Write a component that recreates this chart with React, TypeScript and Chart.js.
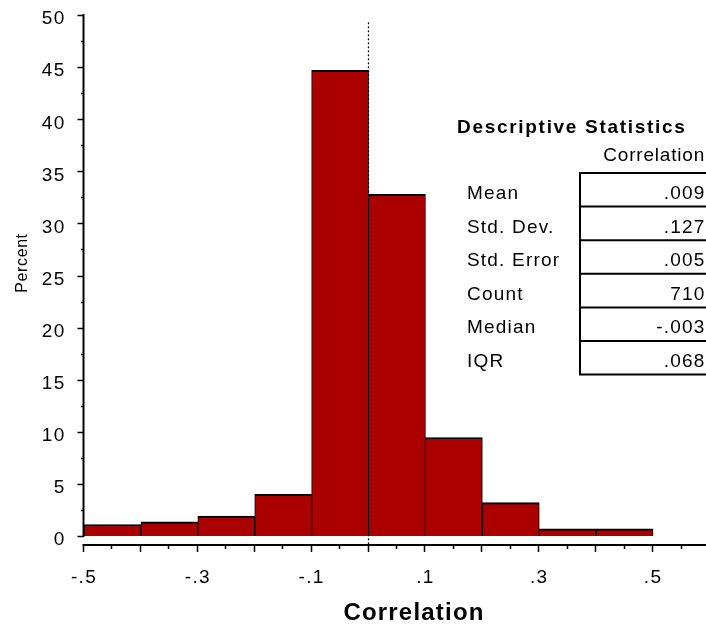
import React, { useEffect, useRef } from "react";
import { Chart, registerables } from "chart.js";

Chart.register(...registerables);

// ---- data ----
const binCenters = [-0.45, -0.35, -0.25, -0.15, -0.05, 0.05, 0.15, 0.25, 0.35, 0.45];
const percentValues = [1.1, 1.35, 1.9, 4.0, 44.7, 32.8, 9.45, 3.2, 0.7, 0.7];
const yTickValues = [0, 5, 10, 15, 20, 25, 30, 35, 40, 45, 50];
const yTickLabels = ["0", "5", "10", "15", "20", "25", "30", "35", "40", "45", "50"];
const xTickValues = [-0.5, -0.3, -0.1, 0.1, 0.3, 0.5];
const xTickLabels = ["-.5", "-.3", "-.1", ".1", ".3", ".5"];
const referenceLineX = 0;
const xAxisTitle = "Correlation";
const yAxisTitle = "Percent";
const tableTitle = "Descriptive Statistics";
const tableHeader = "Correlation";
const statLabels = ["Mean", "Std. Dev.", "Std. Error", "Count", "Median", "IQR"];
const statValues = [".009", ".127", ".005", "710", "-.003", ".068"];

const FONT = '"Liberation Sans", Arial, Helvetica, sans-serif';

function setFont(ctx: CanvasRenderingContext2D, font: string, spacing: number) {
  ctx.font = font;
  (ctx as any).letterSpacing = spacing + "px";
}

const customPlugin = {
  id: "customAxes",
  beforeDatasetsDraw(chart: any) {
    const ctx: CanvasRenderingContext2D = chart.ctx;
    const xs = chart.scales.x;
    const ys = chart.scales.y;
    const px = Math.round(xs.getPixelForValue(referenceLineX)) - 0.5;
    const axisY = ys.getPixelForValue(0) + 9;
    ctx.save();
    ctx.strokeStyle = "#111";
    ctx.lineWidth = 1.3;
    ctx.setLineDash([2, 2]);
    ctx.beginPath();
    ctx.moveTo(px, ys.getPixelForValue(49.3));
    ctx.lineTo(px, axisY);
    ctx.stroke();
    ctx.restore();
  },
  afterDraw(chart: any) {
    const ctx: CanvasRenderingContext2D = chart.ctx;
    const xs = chart.scales.x;
    const ys = chart.scales.y;
    const area = chart.chartArea;
    const y0 = ys.getPixelForValue(0);
    const axisY = y0 + 9;
    const axisX = area.left - 0.5;
    ctx.save();
    ctx.fillStyle = "#000";
    ctx.strokeStyle = "#000";

    // y axis line
    ctx.lineWidth = 2;
    ctx.beginPath();
    ctx.moveTo(axisX, ys.getPixelForValue(50) - 1);
    ctx.lineTo(axisX, y0 + 1);
    ctx.stroke();
    // y ticks (major every 5, minor halfway)
    for (let i = 0; i <= 20; i++) {
      const v = i * 2.5;
      const py = Math.round(ys.getPixelForValue(v)) + 0.5;
      const len = i % 2 === 0 ? 6 : 2.5;
      ctx.lineWidth = 1.5;
      ctx.beginPath();
      ctx.moveTo(axisX - len, py);
      ctx.lineTo(axisX, py);
      ctx.stroke();
    }
    setFont(ctx, "19px " + FONT, 1.3);
    ctx.textAlign = "right";
    ctx.textBaseline = "alphabetic";
    yTickValues.forEach((v, i) => {
      const py = ys.getPixelForValue(v);
      ctx.fillText(yTickLabels[i], 65.5, py + 9.3);
    });

    // x axis line
    ctx.lineWidth = 2;
    ctx.beginPath();
    ctx.moveTo(axisX - 1, axisY);
    ctx.lineTo(chart.width, axisY);
    ctx.stroke();
    for (let i = 0; i <= 21; i++) {
      const v = -0.5 + i * 0.05;
      const px = Math.round(xs.getPixelForValue(v)) - 0.5;
      const len = i % 2 === 0 ? 7 : 4;
      ctx.lineWidth = 1.5;
      ctx.beginPath();
      ctx.moveTo(px, axisY);
      ctx.lineTo(px, axisY + len);
      ctx.stroke();
    }
    ctx.textAlign = "center";
    xTickValues.forEach((v, i) => {
      const px = xs.getPixelForValue(v);
      ctx.fillText(xTickLabels[i], px, axisY + 38);
    });

    // axis titles
    setFont(ctx, "bold 24px " + FONT, 1.2);
    ctx.textAlign = "center";
    ctx.fillText(xAxisTitle, 414, 620);

    setFont(ctx, "16px " + FONT, 0.6);
    ctx.save();
    ctx.translate(26.5, 263);
    ctx.rotate(-Math.PI / 2);
    ctx.textAlign = "center";
    ctx.fillText(yAxisTitle, 0, 0);
    ctx.restore();

    // statistics table
    setFont(ctx, "bold 19px " + FONT, 1.7);
    ctx.textAlign = "left";
    ctx.fillText(tableTitle, 457, 132.5);

    setFont(ctx, "19px " + FONT, 0.8);
    ctx.textAlign = "right";
    ctx.fillText(tableHeader, 705, 161);

    const rowTop = 173;
    const rowH = 33.6;
    const boxLeft = 580;
    ctx.lineWidth = 2;
    for (let i = 0; i <= statLabels.length; i++) {
      const ly = rowTop + i * rowH;
      ctx.beginPath();
      ctx.moveTo(boxLeft - 1, ly);
      ctx.lineTo(chart.width, ly);
      ctx.stroke();
    }
    ctx.beginPath();
    ctx.moveTo(boxLeft, rowTop);
    ctx.lineTo(boxLeft, rowTop + statLabels.length * rowH);
    ctx.stroke();

    setFont(ctx, "19px " + FONT, 1.2);
    statLabels.forEach((lab, i) => {
      const by = rowTop + i * rowH + 26;
      ctx.textAlign = "left";
      ctx.fillText(lab, 467, by);
      ctx.textAlign = "right";
      ctx.fillText(statValues[i], 705.5, by);
    });

    ctx.restore();
  },
};

export default function App() {
  const canvasRef = useRef<HTMLCanvasElement | null>(null);

  useEffect(() => {
    document.body.style.margin = "0";
    const canvas = canvasRef.current;
    if (!canvas) return;
    const chart = new Chart(canvas, {
      type: "bar",
      data: {
        datasets: [
          {
            data: binCenters.map((c, i) => ({ x: c, y: percentValues[i] })),
            backgroundColor: "#AA0000",
            borderColor: "#000000",
            borderWidth: { top: 2, left: 1, right: 1, bottom: 0 },
            borderSkipped: "bottom",
            barPercentage: 1,
            categoryPercentage: 1,
          } as any,
        ],
      },
      options: {
        responsive: false,
        animation: false,
        devicePixelRatio: 1,
        layout: { padding: { left: 84, right: 0, top: 15, bottom: 89 } },
        plugins: {
          legend: { display: false },
          tooltip: { enabled: false },
        },
        scales: {
          x: { type: "linear", min: -0.5, max: 0.593, display: false, offset: false },
          y: { type: "linear", min: 0, max: 50, display: false },
        },
      },
      plugins: [customPlugin],
    });
    return () => chart.destroy();
  }, []);

  return (
    <div style={{ width: 706, height: 625, background: "#fff" }}>
      <canvas ref={canvasRef} width={706} height={625} style={{ display: "block" }} />
    </div>
  );
}
